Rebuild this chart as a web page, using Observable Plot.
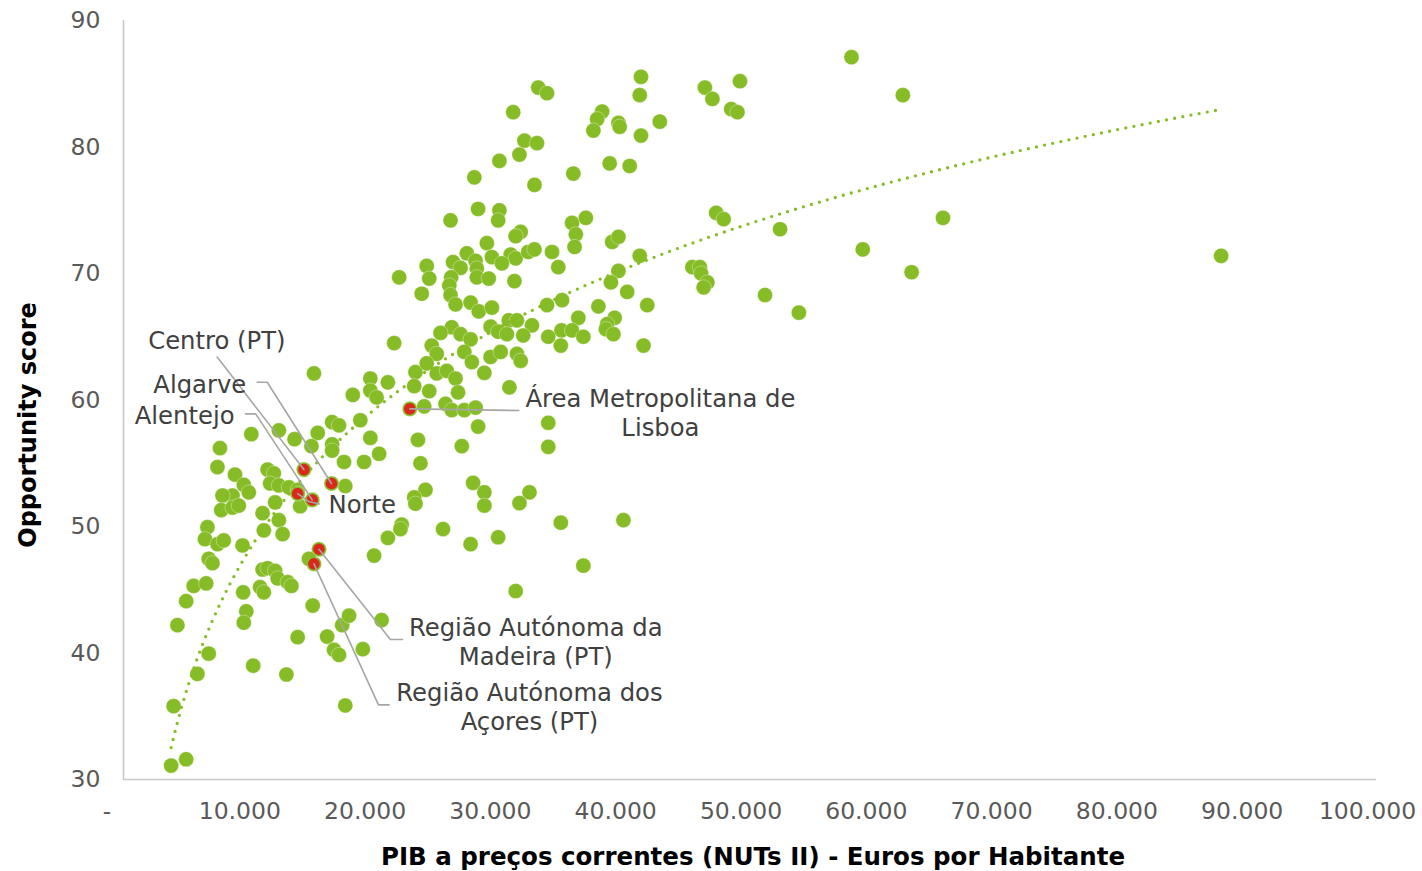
<!DOCTYPE html>
<html>
<head>
<meta charset="utf-8">
<script src="https://cdn.jsdelivr.net/npm/d3@7"></script>
<script src="https://cdn.jsdelivr.net/npm/@observablehq/plot@0.6"></script>
<style>
  html, body { margin: 0; padding: 0; background: #ffffff; }
  #chart { width: 1422px; height: 871px; }
</style>
</head>
<body>
<div id="chart"></div>
<script>
// ---- Data: GDP per inhabitant (euros) and Opportunity score, one entry per NUTS II region ----
const gdp = [
  58100, 62200, 65400, 59000, 62900, 87600, 52400, 51200, 53900, 49200,
  46400, 47000, 48500, 49000, 47300, 47900, 45400, 46000, 46100, 46600,
  46300, 41300, 41200, 33100, 33800, 38200, 37800, 37500, 39500, 39600,
  42800, 41300, 38800, 40400, 35900, 35800, 36900, 36100, 36000, 39000,
  39500, 41200, 34200, 34700, 39500, 38900, 40200, 41800, 37900, 35000,
  33800, 36300, 39200, 38600, 34950, 35800, 33900, 36700, 34900, 38500,
  39100, 41500, 33900, 33900, 34900, 39900, 36700, 31100, 32000, 33000,
  31600, 30000, 28000, 32800, 28300, 30000, 29900, 26100, 31700, 31300,
  29000, 27400, 29400, 30900, 31300, 30200, 32300, 32800, 24200, 24400,
  22000, 23800, 26300, 26900, 28100, 28200, 26150, 26000, 28200, 29150,
  31200, 26100, 26500, 27700, 28350, 29400, 30750, 31400, 32600, 29300,
  26200, 25300, 21600, 24600, 26900, 27700, 25000, 27200, 27800, 29900,
  30600, 31900, 29300, 30100, 31400, 31700, 28800, 23300, 24200, 25000,
  25800, 26500, 21100, 23200, 24400, 26700, 30800, 22850, 24000, 25700,
  26200, 27200, 28100, 28300, 23500, 27000, 23700, 27900, 28800, 28800,
  32400, 31600, 24100, 23200, 23300, 22200, 22100, 21100, 25500, 27700,
  29900, 31300, 20000, 15200, 19700, 18300, 19700, 20200, 18900, 16650,
  17200, 10200, 12400, 13650, 15500, 15000, 16650, 16650, 19700, 20400,
  17600, 19200, 7700, 7500, 8900, 11500, 12000, 11700, 12400, 13200,
  9600, 10000, 8700, 7900, 7800, 8700, 9200, 12100, 14100, 13900,
  17700, 14400, 16600, 13900, 15060, 6700, 6500, 7500, 8000, 9500,
  11100, 11200, 12400, 12700, 15600, 15200, 6800, 7100, 5600, 6600,
  5000, 4300, 6800, 5900, 4000, 3800, 5000, 11100, 11500, 12100,
  12300, 13100, 13400, 9550, 10900, 11200, 9800, 9600, 13900, 10350,
  13000, 15100, 14800, 16250, 16800, 17200, 17450, 18000, 19100, 20600,
  17700
];
const score = [
  87.1, 84.1, 74.4, 71.9, 70.1, 71.4, 73.5, 68.3, 66.9, 85.2,
  84.7, 83.8, 83.0, 82.75, 74.8, 74.3, 70.5, 70.5, 70.0, 69.3,
  68.9, 85.55, 84.1, 84.7, 84.25, 82.8, 82.2, 81.3, 81.9, 81.6,
  82.0, 80.9, 78.7, 78.5, 77.9, 74.0, 74.4, 73.1, 72.1, 72.5,
  72.9, 71.4, 71.7, 70.5, 70.2, 69.3, 68.55, 67.5, 67.4, 67.9,
  67.5, 66.5, 66.5, 66.0, 65.5, 65.5, 65.0, 65.0, 64.3, 65.6,
  65.2, 64.3, 58.2, 56.3, 50.3, 50.5, 46.9, 82.75, 80.5, 80.3,
  79.4, 78.9, 77.6, 77.0, 75.1, 75.0, 74.2, 74.2, 73.3, 72.95,
  72.4, 71.6, 71.3, 71.5, 71.2, 70.8, 71.7, 71.9, 70.6, 69.6,
  69.7, 68.4, 70.9, 70.45, 71.0, 70.4, 69.7, 69.05, 69.7, 69.6,
  69.4, 68.3, 67.55, 67.7, 67.0, 67.3, 66.3, 66.3, 65.9, 65.8,
  65.75, 65.3, 64.5, 64.3, 65.2, 64.8, 63.65, 63.8, 63.0, 65.4,
  65.2, 65.1, 63.4, 63.8, 63.65, 63.1, 62.15, 62.2, 62.9, 62.1,
  62.3, 61.7, 61.4, 61.1, 60.7, 60.6, 61.0, 59.3, 59.5, 59.7,
  59.2, 59.2, 59.4, 57.9, 56.85, 56.35, 55.0, 53.45, 52.7, 51.65,
  52.7, 51.85, 52.9, 52.3, 51.8, 50.15, 49.8, 49.1, 49.8, 48.6,
  49.15, 44.9, 47.7, 62.1, 61.7, 60.4, 60.75, 60.2, 58.4, 58.25,
  58.0, 57.3, 57.6, 56.9, 57.4, 56.35, 56.5, 56.0, 57.0, 55.75,
  55.1, 55.1, 56.2, 54.7, 54.1, 54.5, 54.2, 53.4, 53.25, 53.1,
  53.3, 52.7, 52.45, 52.45, 51.3, 51.5, 51.65, 51.9, 51.6, 52.9,
  53.2, 54.5, 53.4, 52.6, 52.1, 49.95, 49.0, 48.6, 48.9, 48.5,
  51.05, 49.7, 50.5, 49.4, 48.2, 47.05, 47.45, 47.1, 45.3, 45.5,
  44.1, 42.2, 39.95, 38.35, 35.8, 31.1, 31.6, 46.6, 46.7, 46.5,
  45.9, 45.6, 45.3, 44.8, 45.2, 44.8, 43.3, 42.4, 41.25, 39.0,
  38.3, 43.75, 47.45, 41.3, 40.25, 39.85, 42.2, 42.95, 40.3, 42.6,
  35.85
];

// Portuguese regions (highlighted in red)
const ptNames  = ["Centro (PT)", "Algarve", "Alentejo", "Norte", "Área Metropolitana de Lisboa",
                  "Região Autónoma da Madeira (PT)", "Região Autónoma dos Açores (PT)"];
const ptGdp    = [14400, 16600, 15060, 13900, 22850, 15600, 15200];
const ptScore  = [54.5, 53.4, 52.1, 52.6, 59.3, 48.2, 47.05];

// Data labels for the Portuguese regions
const labelText   = ["Centro (PT)", "Algarve", "Alentejo", "Norte", "Área Metropolitana de\nLisboa",
                     "Região Autónoma da\nMadeira (PT)", "Região Autónoma dos\nAçores (PT)"];
const labelGdp    = [12930, 9800, 8860, 16360, 42850, 32900, 32400];
const labelScore  = [64.8, 61.3, 58.85, 51.8, 59.05, 40.95, 35.8];
const labelAnchor = ["end", "end", "end", "start", "middle", "middle", "middle"];
// Leader-line start (at label) and optional elbow
const leaderStartGdp   = [7480, 10670, 9740, 15640, 31550, 22260, 21200];
const leaderStartScore = [63.4, 61.4, 58.9, 51.78, 59.17, 41.07, 35.9];
const leaderElbowGdp   = [null, 11470, 10550, 14760, null, 21300, 20350];
const leaderElbowScore = [null, 61.4, 58.9, 51.98, null, 41.07, 35.9];

// Axis ticks and titles
const xTicks = [0, 10000, 20000, 30000, 40000, 50000, 60000, 70000, 80000, 90000, 100000];
const yTicks = [30, 40, 50, 60, 70, 80, 90];
const xTitle = "PIB a preços correntes (NUTs II) - Euros por Habitante";
const yTitle = "Opportunity score";

// ---- Build tables ----
const points = gdp.map((g, i) => ({gdp: g, score: score[i]}));
const pt = ptNames.map((n, i) => ({name: n, gdp: ptGdp[i], score: ptScore[i]}));
const labels = labelText.map((t, i) => ({text: t, gdp: labelGdp[i], score: labelScore[i], anchor: labelAnchor[i]}));
const leaders = [];
ptNames.forEach((n, i) => {
  leaders.push({name: n, gdp: leaderStartGdp[i], score: leaderStartScore[i]});
  if (leaderElbowGdp[i] != null) leaders.push({name: n, gdp: leaderElbowGdp[i], score: leaderElbowScore[i]});
  leaders.push({name: n, gdp: ptGdp[i], score: ptScore[i]});
});

// Logarithmic trendline (least squares of score on ln(gdp))
const lx = gdp.map(Math.log);
const mx = d3.mean(lx), my = d3.mean(score);
const a = d3.sum(lx, (v, i) => (v - mx) * (score[i] - my)) / d3.sum(lx, v => (v - mx) ** 2);
const b = my - a * mx;
const [gMin, gMax] = d3.extent(gdp);
const trend = d3.range(0, 201).map(k => {
  const g = gMin + (gMax - gMin) * k / 200;
  return {gdp: g, score: a * Math.log(g) + b};
});

const green = "#86BC25";
const red = "#DA291C";
const labelFont = 24.3;
const fmtX = d => d === 0 ? "-\u00a0\u00a0" : d3.format(",")(d).replace(/,/g, ".");
const labelMark = anchor => Plot.text(labels.filter(d => d.anchor === anchor), {
  x: "gdp", y: "score", text: "text", textAnchor: anchor, lineAnchor: "middle",
  lineHeight: 1.2, fontSize: labelFont, fill: "#404040"
});

const chart = Plot.plot({
  width: 1422,
  height: 871,
  marginLeft: 123,
  marginRight: 46,
  marginTop: 20,
  marginBottom: 92,
  x: {domain: [0, 100000]},
  y: {domain: [30, 90]},
  style: {
    fontFamily: "'DejaVu Sans', Verdana, sans-serif",
    fontSize: "23.5px",
    color: "#595959",
    background: "#ffffff",
    overflow: "visible"
  },
  marks: [
    Plot.axisY(yTicks, {tickSize: 0, tickPadding: 23, label: null, fontSize: 23.5, fill: "#595959"}),
    Plot.axisX(xTicks, {tickSize: 0, tickPadding: 23, tickFormat: fmtX, dx: -9, label: null, fontSize: 23.5, fill: "#595959"}),
    Plot.ruleX([0], {stroke: "#c8c8c8", strokeWidth: 1.6}),
    Plot.ruleY([30], {stroke: "#c8c8c8", strokeWidth: 1.6}),
    Plot.dot(points, {x: "gdp", y: "score", r: 7.6, fill: green, stroke: "#ffffff", strokeWidth: 0.5, strokeOpacity: 0.7}),
    Plot.line(trend, {x: "gdp", y: "score", stroke: green, strokeWidth: 3.3, strokeDasharray: "0 8.3", strokeLinecap: "round"}),
    Plot.dot(pt, {x: "gdp", y: "score", r: 5.8, fill: red, stroke: "none"}),
    Plot.line(leaders, {x: "gdp", y: "score", z: "name", stroke: "#a6a6a6", strokeWidth: 1.6}),
    labelMark("end"),
    labelMark("start"),
    labelMark("middle"),
    Plot.text([yTitle], {frameAnchor: "left", dx: -95, dy: 25, rotate: -90, textAnchor: "middle", lineAnchor: "middle",
                         fontWeight: "bold", fontSize: 24, fill: "#000000"}),
    Plot.text([xTitle], {frameAnchor: "bottom", dx: 3, dy: 78, textAnchor: "middle", lineAnchor: "middle",
                         fontWeight: "bold", fontSize: 24.5, fill: "#000000"})
  ]
});
document.getElementById("chart").appendChild(chart);
</script>
</body>
</html>
